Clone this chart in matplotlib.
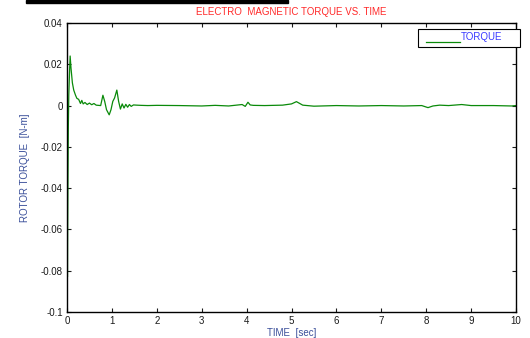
import matplotlib
matplotlib.use('Agg')
import matplotlib.pyplot as plt
from matplotlib.patches import Rectangle

plt.rcParams['font.family'] = ['Liberation Sans', 'DejaVu Sans']

# torque trace (time in sec, torque in N-m)
time = [0.0, 0.005, 0.01, 0.015, 0.02, 0.03, 0.04, 0.055, 0.07, 0.09, 0.12, 0.15,
        0.19, 0.22, 0.26, 0.3, 0.33, 0.36, 0.4, 0.45, 0.5, 0.55, 0.6, 0.65, 0.7,
        0.75, 0.8, 0.84, 0.88, 0.94, 0.98, 1.02, 1.06, 1.11, 1.15, 1.19, 1.23,
        1.27, 1.31, 1.35, 1.39, 1.43, 1.48, 1.55, 1.65, 1.8, 2.0, 2.5, 3.0, 3.3,
        3.6, 3.9, 3.97, 4.03, 4.08, 4.15, 4.4, 4.8, 5.0, 5.11, 5.25, 5.5, 6.0,
        6.5, 7.0, 7.5, 7.9, 8.04, 8.15, 8.3, 8.5, 8.79, 9.0, 9.5, 9.9, 10.0]
torque = [0.0, -0.028, -0.083, -0.06, -0.04, -0.01, 0.005, 0.015, 0.024, 0.018,
          0.011, 0.0075, 0.005, 0.0035, 0.003, 0.001, 0.0025, 0.0008, 0.0015,
          0.0005, 0.0012, 0.0004, 0.001, 0.0002, 0.0001, 0.0, 0.005, 0.002,
          -0.002, -0.0045, -0.002, 0.002, 0.0037, 0.0075, 0.002, -0.0017, 0.0008,
          -0.0012, 0.0006, -0.0008, 0.0005, -0.0004, 0.0003, 0.0002, 0.0001, 0.0,
          0.0001, 0.0, -0.0002, 0.0001, -0.0002, 0.0005, -0.0004, 0.0016, 0.0003,
          0.0001, 0.0, 0.0002, 0.0008, 0.0019, 0.0002, -0.0003, 0.0, -0.0002, 0.0,
          -0.0002, 0.0, -0.001, -0.0002, 0.0002, 0.0, 0.0005, 0.0, 0.0, -0.0002, 0.0]

xticks = list(range(0, 11))
yticks = [0.04, 0.02, 0.0, -0.02, -0.04, -0.06, -0.08, -0.1]
ytick_labels = ['0.04', '0.02', '0', '-0.02', '-0.04', '-0.06', '-0.08', '-0.1']
line_color = '#0a8a0a'

fig = plt.figure(figsize=(5.3, 3.38), dpi=100)
ax = fig.add_axes([0.1264, 0.0769, 0.8472, 0.8551])

ax.plot(time, torque, color=line_color, lw=0.9)

ax.set_xlim(0, 10)
ax.set_ylim(-0.1, 0.04)
ax.set_xticks(xticks)
ax.set_yticks(yticks)
ax.set_yticklabels(ytick_labels)
ax.tick_params(direction='in', top=True, right=True, length=3, width=0.8,
               labelsize=7, colors='#1a1a1a', pad=3)
for s in ax.spines.values():
    s.set_linewidth(1.0)
    s.set_color('black')

ax.set_title('ELECTRO  MAGNETIC TORQUE VS. TIME', color='#ff2a2a', fontsize=7, pad=6)
ax.set_xlabel('TIME  [sec]', color='#3a4f9a', fontsize=7, labelpad=1)
ax.set_ylabel('ROTOR TORQUE  [N-m]', color='#3a4f9a', fontsize=7, labelpad=8)

# legend box drawn by hand (matlab style: underscore line then label)
ax.add_patch(Rectangle((0.782, 0.917), 0.227, 0.062, transform=ax.transAxes,
                       facecolor='white', edgecolor='black', lw=0.8,
                       clip_on=False, zorder=5))
ax.plot([0.80, 0.875], [0.934, 0.934], color=line_color, lw=0.9,
        transform=ax.transAxes, clip_on=False, zorder=6)
ax.text(0.877, 0.950, 'TORQUE', color='#3a3aff', fontsize=7, ha='left',
        va='center', transform=ax.transAxes, zorder=6)

# black strip left over at the top edge of the screenshot
fig.patches.append(Rectangle((26 / 530, 1 - 3 / 338), 262 / 530, 3 / 338,
                             transform=fig.transFigure, color='black'))

fig.savefig('out.png', dpi=100)
